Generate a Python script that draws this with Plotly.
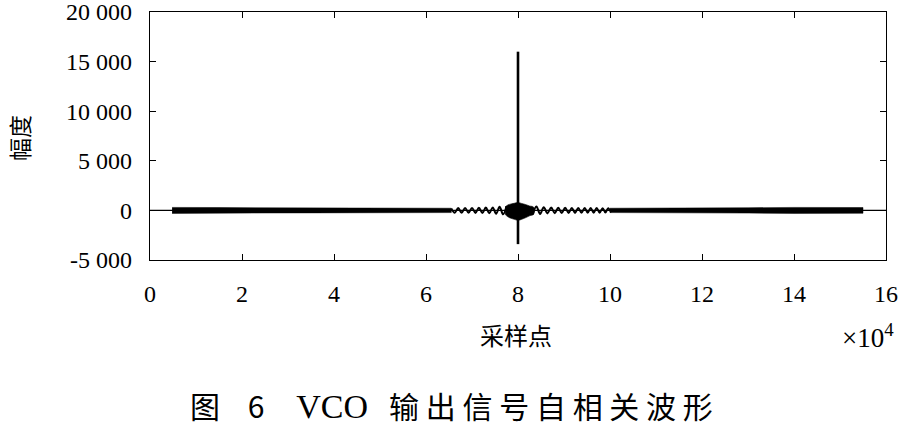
import plotly.graph_objects as go

# ---- data (x in units of 1e4 samples) ----
x_ticks = [0, 2, 4, 6, 8, 10, 12, 14, 16]
y_ticks = [20000, 15000, 10000, 5000, 0, -5000]
y_tick_text = ["20 000", "15 000", "10 000", "5 000", "0", "-5 000"]

# envelope of dense noisy band (half-width in amplitude units)
left_band_x = [0.48, 0.8, 1.5, 2.5, 3.5, 4.5, 5.5, 6.2, 6.55]
left_band_amp = [300, 320, 290, 260, 250, 250, 240, 230, 220]
right_band_x = [10.0, 10.5, 11.0, 12.0, 13.0, 14.0, 14.8, 15.5]
right_band_amp = [220, 240, 250, 260, 270, 300, 310, 290]

# visible ripple near the peak
left_ripple_x = [6.55, 6.625, 6.70, 6.775, 6.85, 6.925, 7.00, 7.075, 7.15,
                 7.225, 7.30, 7.375, 7.45, 7.525, 7.60, 7.675, 7.75]
left_ripple_y = [200, -230, 230, -240, 240, -240, 250, -250, 260,
                 -260, 280, -290, 300, -330, 360, -400, 420]
right_ripple_x = [8.32, 8.40, 8.48, 8.56, 8.64, 8.72, 8.80, 8.875, 8.95, 9.025,
                  9.10, 9.17, 9.24, 9.31, 9.38, 9.45, 9.515, 9.58, 9.645, 9.71,
                  9.775, 9.84, 9.90, 9.96, 10.02]
right_ripple_y = [-420, 400, -360, 330, -300, 290, -280, 270, -260, 260,
                  -250, 250, -250, 240, -240, 240, -240, 230, -230, 230,
                  -230, 220, -220, 220, -210]

# central blob envelope
blob_x = [7.72, 7.78, 7.85, 7.92, 8.00, 8.08, 8.16, 8.25, 8.34]
blob_upper = [350, 550, 650, 720, 800, 700, 600, 450, 330]
blob_lower = [-400, -650, -800, -900, -1000, -900, -750, -550, -380]

# main correlation spike
spike_x = [8.0, 8.0]
spike_y = [-3400, 16000]

# baseline (ends of the record)
base_x = [0, 16]
base_y = [0, 0]

fig = go.Figure()

def band(xs, amps):
    px = xs + xs[::-1]
    py = amps + [-a for a in amps[::-1]]
    return px, py

for xs, amps in [(left_band_x, left_band_amp), (right_band_x, right_band_amp)]:
    px, py = band(xs, amps)
    fig.add_trace(go.Scatter(x=px, y=py, mode="lines", fill="toself",
                             fillcolor="black", line=dict(color="black", width=0.5),
                             hoverinfo="skip", showlegend=False))

fig.add_trace(go.Scatter(x=base_x, y=base_y, mode="lines",
                         line=dict(color="black", width=1.2), showlegend=False))

for xs, ys in [(left_ripple_x, left_ripple_y), (right_ripple_x, right_ripple_y)]:
    fig.add_trace(go.Scatter(x=xs, y=ys, mode="lines",
                             line=dict(color="black", width=2.0, shape="spline"),
                             showlegend=False))

fig.add_trace(go.Scatter(x=blob_x + blob_x[::-1], y=blob_upper + blob_lower[::-1],
                         mode="lines", fill="toself", fillcolor="black",
                         line=dict(color="black", width=0.6, shape="spline"), showlegend=False))

fig.add_trace(go.Scatter(x=spike_x, y=spike_y, mode="lines",
                         line=dict(color="black", width=2.6), showlegend=False))

serif = "Liberation Serif, Times New Roman, Times, serif"
cjk = "Noto Sans CJK SC"

ML, MT = 150, 12
PW, PH = 736, 248

fig.update_xaxes(range=[0, 16], tickvals=x_ticks, ticktext=[str(v) for v in x_ticks],
                 ticks="inside", ticklen=6, tickcolor="black", mirror="ticks",
                 showline=True, linecolor="black", linewidth=1.2, showgrid=False,
                 zeroline=False, tickfont=dict(family=serif, size=24, color="black"),
                 ticklabelstandoff=12, automargin=False, ticklabeloverflow="allow")
fig.update_yaxes(range=[-5000, 20000], tickvals=y_ticks, ticktext=y_tick_text,
                 ticks="inside", ticklen=6, tickcolor="black", mirror="ticks",
                 showline=True, linecolor="black", linewidth=1.2, showgrid=False,
                 zeroline=False, tickfont=dict(family=serif, size=24, color="black"),
                 ticklabelstandoff=12, automargin=False, ticklabeloverflow="allow")

def px2x(p):
    return (p - ML) / PW

def px2y(p):
    return (MT + PH - p) / PH

fig.add_annotation(text="采样点", xref="paper", yref="paper",
                   x=px2x(516), y=px2y(334), xanchor="center", yanchor="middle",
                   showarrow=False, font=dict(family=cjk, size=24, color="black"))
fig.add_annotation(text="×10<sup>4</sup>", xref="paper", yref="paper",
                   x=px2x(896), y=px2y(336), xanchor="right", yanchor="middle",
                   showarrow=False, font=dict(family=serif, size=27, color="black"))
fig.add_annotation(text="幅度", xref="paper", yref="paper", textangle=-90,
                   x=px2x(19), y=px2y(138), xanchor="center", yanchor="middle",
                   showarrow=False, font=dict(family=cjk, size=23, color="black"))
caption = ("图\u2002\u2009 6\u2003\u200a"
           "<span style=\"font-family:Liberation Serif;font-size:34px\">VCO</span>"
           "\u2002\u2009输 出 信 号 自 相 关 波 形")
fig.add_annotation(text=caption, xref="paper", yref="paper",
                   x=px2x(188), y=px2y(405), xanchor="left", yanchor="middle",
                   showarrow=False, font=dict(family=cjk, size=30, color="black"))

fig.update_layout(width=911, height=430,
                  margin=dict(l=ML, r=911 - ML - PW, t=MT, b=430 - MT - PH),
                  paper_bgcolor="white", plot_bgcolor="white", showlegend=False)

fig.write_html("out.html", config={"displayModeBar": False},
               post_script="document.body.style.margin='0px';")
